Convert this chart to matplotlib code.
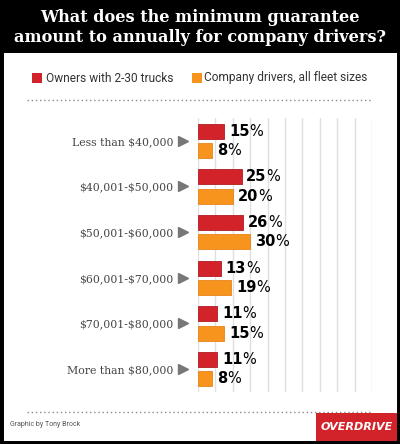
import matplotlib.pyplot as plt
from matplotlib.patches import Rectangle

categories = ['Less than $40,000', '$40,001-$50,000', '$50,001-$60,000',
              '$60,001-$70,000', '$70,001-$80,000', 'More than $80,000']
owners = [15, 25, 26, 13, 11, 11]
company = [8, 20, 30, 19, 15, 8]
series_names = ['Owners with 2-30 trucks', 'Company drivers, all fleet sizes']

RED = '#d2232a'
ORANGE = '#f7941d'
W, H = 400, 444


def fx(px):
    return px / W


def fy(py):
    return 1 - py / H


fig = plt.figure(figsize=(4, 4.44), dpi=100, facecolor='white')

# frame and black header
fig.patches.append(Rectangle((0, 0), 1, 1, transform=fig.transFigure,
                             fill=False, edgecolor='black', lw=5, zorder=5))
fig.patches.append(Rectangle((0, fy(53)), 1, 53 / H, transform=fig.transFigure,
                             facecolor='black', edgecolor='none', zorder=1))
fig.text(0.5, fy(17), 'What does the minimum guarantee', color='white',
         family='DejaVu Serif', weight='bold', size=11.6, ha='center', va='center')
fig.text(0.5, fy(38), 'amount to annually for company drivers?', color='white',
         family='DejaVu Serif', weight='bold', size=11.6, ha='center', va='center')

# legend
fig.patches.append(Rectangle((fx(32), fy(83)), 10 / W, 10 / H, transform=fig.transFigure,
                             facecolor=RED, edgecolor='none'))
fig.text(fx(46), fy(78), series_names[0], color='#333333', family='Roboto',
         size=8.6, ha='left', va='center')
fig.patches.append(Rectangle((fx(192), fy(83)), 10 / W, 10 / H, transform=fig.transFigure,
                             facecolor=ORANGE, edgecolor='none'))
fig.text(fx(204), fy(78), series_names[1], color='#333333', family='Roboto',
         size=8.6, ha='left', va='center')

# dotted separators
for py in (100, 412):
    fig.lines.append(plt.Line2D([fx(27), fx(372)], [fy(py), fy(py)],
                                transform=fig.transFigure, color='#888888',
                                lw=1, ls=(0, (1, 2))))

# chart
ax = fig.add_axes([fx(198), fy(392), fx(372) - fx(198), (392 - 118) / H])
idx = list(range(len(categories)))
bh = 0.33
off = 0.21
ax.barh([i - off for i in idx], owners, height=bh, color=RED, edgecolor='#b01c22', lw=0.6, zorder=3)
ax.barh([i + off for i in idx], company, height=bh, color=ORANGE, edgecolor='#e8841a', lw=0.6, zorder=3)

for i in idx:
    for v, y in ((owners[i], i - off), (company[i], i + off)):
        t = ax.annotate(str(v), xy=(v, y), xytext=(3.5, 0), textcoords='offset points',
                        ha='left', va='center', size=10.5, weight='heavy',
                        family='DejaVu Sans', color='black')
        ax.annotate('%', xy=(1, 0), xycoords=t, ha='left', va='bottom',
                    size=10.5, family='DejaVu Sans', color='black')

ax.plot([-8.6] * len(idx), idx, marker='>', ls='none', color='#777777',
        markersize=7, clip_on=False)

ax.set_xlim(0, 100)
ax.set_ylim(5.5, -0.5)
ax.set_xticks(range(0, 101, 10))
ax.set_xticklabels([])
ax.set_yticks(idx)
ax.set_yticklabels(categories, family='DejaVu Serif', size=7.8, color='#444444',
                   parse_math=False)
ax.tick_params(axis='y', length=0, pad=18)
ax.tick_params(axis='x', length=0)
ax.grid(axis='x', color='#e0e0e0', lw=1, zorder=0)
for s in ax.spines.values():
    s.set_visible(False)
ax.set_facecolor('none')

# footer
fig.text(fx(10), fy(424), 'Graphic by Tony Brock', color='#555555', family='Roboto',
         size=5, ha='left', va='center')
fig.patches.append(Rectangle((fx(316), fy(441)), 82 / W, 28 / H, transform=fig.transFigure,
                             facecolor=RED, edgecolor='none', zorder=2))
fig.text(fx(357), fy(427), 'OVERDRIVE', color='white', family='DejaVu Sans',
         weight='heavy', style='italic', size=8, ha='center', va='center', zorder=3)

fig.savefig('out.png', dpi=100)
